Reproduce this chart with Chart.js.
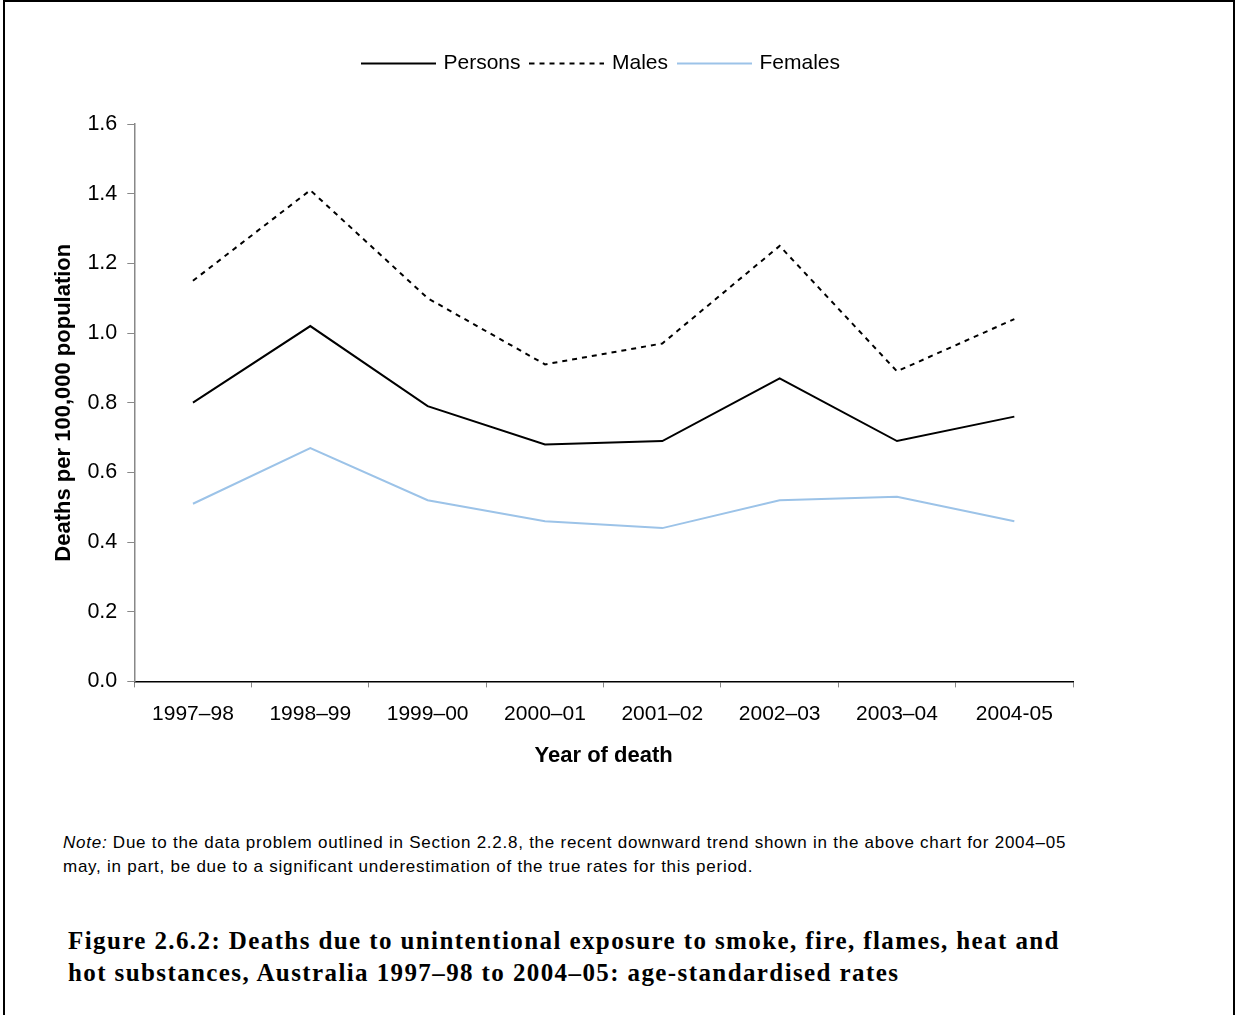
<!DOCTYPE html>
<html>
<head>
<meta charset="utf-8">
<script src="https://cdn.jsdelivr.net/npm/chart.js@4/dist/chart.umd.min.js"></script>
<style>
  html, body { margin: 0; padding: 0; background: #fff; }
  #frame {
    position: absolute; left: 3px; top: 0; width: 1232px; height: 1015px;
    border-left: 2px solid #000; border-top: 2px solid #000; border-right: 2px solid #000;
    box-sizing: border-box;
  }
  #chartBox { position: absolute; left: 0; top: 0; width: 1236px; height: 800px; }
  #note {
    position: absolute; left: 63px; top: 831px; width: 1015px;
    font-family: "Liberation Sans", Arial, sans-serif; font-size: 17px; letter-spacing: 0.75px;
    line-height: 24px; color: #000;
  }
  #caption {
    position: absolute; left: 68px; top: 925px; width: 1010px;
    font-family: "Liberation Serif", "Times New Roman", serif; font-weight: bold; font-size: 25px;
    letter-spacing: 1.4px; line-height: 32px; color: #000;
  }
</style>
</head>
<body>
<div id="frame"></div>
<div id="chartBox"><canvas id="chart"></canvas></div>
<div id="note"><i>Note:</i> Due to the data problem outlined in Section 2.2.8, the recent downward trend shown in the above chart for 2004–05 may, in part, be due to a significant underestimation of the true rates for this period.</div>
<div id="caption">Figure 2.6.2: Deaths due to unintentional exposure to smoke, fire, flames, heat and hot substances, Australia 1997–98 to 2004–05: age-standardised rates</div>
<script>
// Data
const years = ['1997–98', '1998–99', '1999–00', '2000–01', '2001–02', '2002–03', '2003–04', '2004-05'];
const persons = [0.80, 1.02, 0.79, 0.68, 0.69, 0.87, 0.69, 0.76];
const males = [1.15, 1.41, 1.10, 0.91, 0.97, 1.25, 0.89, 1.04];
const females = [0.51, 0.67, 0.52, 0.46, 0.44, 0.52, 0.53, 0.46];

const font = 'Liberation Sans, Arial, sans-serif';
const femaleColor = '#9cc3e8';
const malesDash = [5, 5];

// small canvas used as legend symbol, so the dash shows in the legend
function legendLine(color, dash) {
    const c = document.createElement('canvas');
    c.width = 75;
    c.height = 4;
    const g = c.getContext('2d');
    g.strokeStyle = color;
    g.lineWidth = 2;
    g.setLineDash(dash);
    g.beginPath();
    g.moveTo(0, 2);
    g.lineTo(75, 2);
    g.stroke();
    return c;
}

// push the plot down below the legend, and centre the legend on the page
const legendGap = {
    id: 'legendGap',
    beforeInit(chart) {
        const legend = chart.legend;
        const fit = legend.fit;
        legend.fit = function() {
            fit.bind(legend)();
            this.height += 40;
        };
        const draw = legend.draw;
        legend.draw = function() {
            chart.ctx.save();
            chart.ctx.translate(42, 0);
            draw.bind(legend)();
            chart.ctx.restore();
        };
    }
};

document.addEventListener("DOMContentLoaded", function() {
    const ctx = document.getElementById('chart').getContext('2d');
    const symbols = [legendLine('#000', []), legendLine('#000', malesDash), legendLine(femaleColor, [])];

    new Chart(ctx, {
        type: 'line',
        data: {
            labels: years,
            datasets: [{
                label: 'Persons',
                data: persons,
                borderColor: '#000000',
                backgroundColor: '#000000',
                borderWidth: 2,
                pointRadius: 0,
                tension: 0
            }, {
                label: 'Males',
                data: males,
                borderColor: '#000000',
                backgroundColor: '#000000',
                borderWidth: 2,
                borderDash: malesDash,
                pointRadius: 0,
                tension: 0
            }, {
                label: 'Females',
                data: females,
                borderColor: femaleColor,
                backgroundColor: femaleColor,
                borderWidth: 2,
                pointRadius: 0,
                tension: 0
            }]
        },
        options: {
            responsive: true,
            maintainAspectRatio: false,
            animation: false,
            layout: {
                padding: { left: 47, right: 163, top: 41, bottom: 27 }
            },
            plugins: {
                tooltip: { enabled: false },
                legend: {
                    position: 'top',
                    labels: {
                        color: '#000',
                        font: { family: font, size: 21 },
                        usePointStyle: true,
                        pointStyleWidth: 69,
                        boxWidth: 69,
                        boxHeight: 10,
                        padding: 12,
                        generateLabels: function(chart) {
                            const items = Chart.defaults.plugins.legend.labels.generateLabels(chart);
                            items.forEach(function(item, i) {
                                item.pointStyle = symbols[i];
                            });
                            return items;
                        }
                    }
                }
            },
            scales: {
                x: {
                    offset: true,
                    grid: {
                        offset: true,
                        drawOnChartArea: false,
                        drawTicks: true,
                        tickLength: 6,
                        color: '#888'
                    },
                    border: { color: '#000', width: 1.5 },
                    ticks: {
                        color: '#000',
                        font: { family: font, size: 21 },
                        padding: 14,
                        maxRotation: 0
                    },
                    title: {
                        display: true,
                        text: 'Year of death',
                        color: '#000',
                        font: { family: font, size: 22, weight: 'bold' },
                        padding: { top: 2 }
                    }
                },
                y: {
                    min: 0,
                    max: 1.6,
                    grid: {
                        drawOnChartArea: false,
                        drawTicks: true,
                        tickLength: 7,
                        color: '#888'
                    },
                    border: { color: '#888', width: 1.5 },
                    ticks: {
                        stepSize: 0.2,
                        color: '#000',
                        font: { family: font, size: 21.5 },
                        padding: 10,
                        callback: function(v) { return v.toFixed(1); }
                    },
                    title: {
                        display: true,
                        text: 'Deaths per 100,000 population',
                        color: '#000',
                        font: { family: font, size: 22, weight: 'bold' },
                        padding: { bottom: 0 }
                    }
                }
            }
        },
        plugins: [legendGap]
    });
});
</script>
</body>
</html>
